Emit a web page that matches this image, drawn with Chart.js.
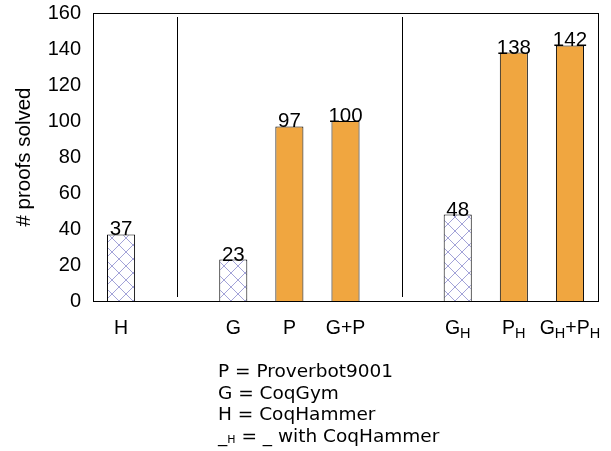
<!DOCTYPE html>
<html>
<head>
<meta charset="utf-8">
<script src="https://cdn.jsdelivr.net/npm/chart.js@4"></script>
<style>
  html, body { margin: 0; padding: 0; background: #fff; }
  #wrap { position: relative; width: 611px; height: 451px; }
  #key {
    position: absolute; left: 218px; top: 360px;
    font-family: "DejaVu Sans", sans-serif; font-size: 18.5px;
    line-height: 21.5px; color: #000;
  }
  #key sub { font-size: 11px; vertical-align: -1px; }
</style>
</head>
<body>
<div id="wrap">
  <canvas id="chart" width="611" height="451"></canvas>
  <div id="key">
    <div>P = Proverbot9001</div>
    <div>G = CoqGym</div>
    <div>H = CoqHammer</div>
    <div>_<sub>H</sub> = _ with CoqHammer</div>
  </div>
</div>
<script>
// categories ("" = gap slot holding a separator line)
const categories = ["H", "", "G", "P", "G+P", "", "G_H", "P_H", "G_H+P_H"];
const solved = [37, null, 23, 97, 100, null, 48, 138, 142];
const hatched = [true, false, true, false, false, false, true, false, false];
const separators = [1, 5];
const yTicks = [0, 20, 40, 60, 80, 100, 120, 140, 160];

const ORANGE = "#f0a640";
const FONT = "'Liberation Sans', Arial, sans-serif";

function makeHatch() {
  const c = document.createElement("canvas");
  c.width = 14;
  c.height = 14;
  const ctx = c.getContext("2d");
  ctx.fillStyle = "#fff";
  ctx.fillRect(0, 0, 14, 14);
  ctx.strokeStyle = "#a3a3d8";
  ctx.lineWidth = 1;
  ctx.beginPath();
  ctx.moveTo(0, 0); ctx.lineTo(14, 14);
  ctx.moveTo(14, 0); ctx.lineTo(0, 14);
  ctx.stroke();
  return document.getElementById("chart").getContext("2d").createPattern(c, "repeat");
}
const hatch = makeHatch();

// draw "G_H+P_H" style labels with subscripts, centred on x
function drawSubLabel(ctx, text, x, y, size, subSize) {
  const parts = [];
  let i = 0;
  while (i < text.length) {
    if (text[i] === "_") {
      parts.push({ t: text[i + 1], sub: true });
      i += 2;
    } else {
      parts.push({ t: text[i], sub: false });
      i += 1;
    }
  }
  let total = 0;
  parts.forEach((p) => {
    ctx.font = (p.sub ? subSize : size) + "px " + FONT;
    p.w = ctx.measureText(p.t).width;
    total += p.w;
  });
  let cx = x - total / 2;
  ctx.textAlign = "left";
  ctx.textBaseline = "alphabetic";
  parts.forEach((p) => {
    ctx.font = (p.sub ? subSize : size) + "px " + FONT;
    ctx.fillText(p.t, cx, p.sub ? y + 4 : y);
    cx += p.w;
  });
}

const extras = {
  id: "extras",
  afterDatasetsDraw(chart) {
    const { ctx, chartArea: a, scales } = chart;
    ctx.save();
    ctx.strokeStyle = "#000";
    ctx.lineWidth = 1;
    ctx.strokeRect(Math.round(a.left) + 0.5, Math.round(a.top) + 0.5,
      Math.round(a.right - a.left), Math.round(a.bottom - a.top));

    separators.forEach((i) => {
      const x = Math.round(scales.x.getPixelForValue(i)) + 0.5;
      ctx.beginPath();
      ctx.moveTo(x, a.top + 4);
      ctx.lineTo(x, a.bottom - 4);
      ctx.stroke();
    });

    // value labels
    ctx.fillStyle = "#000";
    ctx.font = "20.5px " + FONT;
    ctx.textAlign = "center";
    ctx.textBaseline = "alphabetic";
    chart.getDatasetMeta(0).data.forEach((bar, i) => {
      if (solved[i] == null) return;
      ctx.fillText(String(solved[i]), bar.x, bar.y + 1);
    });

    // category labels
    categories.forEach((c, i) => {
      if (!c) return;
      drawSubLabel(ctx, c, scales.x.getPixelForValue(i), a.bottom + 33, 19.5, 14.5);
    });
    ctx.restore();
  },
};

new Chart(document.getElementById("chart"), {
  type: "bar",
  data: {
    labels: categories,
    datasets: [
      {
        data: solved,
        backgroundColor: hatched.map((h) => (h ? hatch : ORANGE)),
        borderColor: "#000",
        borderWidth: 1,
        barPercentage: 0.5,
        categoryPercentage: 1,
      },
    ],
  },
  options: {
    responsive: false,
    animation: false,
    layout: { padding: { top: 13, right: 13, bottom: 150, left: 0 } },
    plugins: { legend: { display: false }, tooltip: { enabled: false } },
    scales: {
      x: {
        grid: { display: false, drawTicks: false },
        border: { display: false },
        ticks: { display: false },
        afterFit: (s) => { s.height = 0; },
      },
      y: {
        min: 0,
        max: 160,
        afterBuildTicks: (s) => { s.ticks = yTicks.map((v) => ({ value: v })); },
        grid: { display: false, drawTicks: false },
        border: { display: false },
        ticks: { color: "#000", padding: 12, font: { family: FONT, size: 20 } },
        title: {
          display: true,
          text: "# proofs solved",
          color: "#000",
          font: { family: FONT, size: 20.5 },
          padding: { top: 12, bottom: 0 },
        },
        afterFit: (s) => {
          s.width = 93;
          s.paddingTop = 0;
          s.paddingBottom = 0;
        },
      },
    },
  },
  plugins: [extras],
});
</script>
</body>
</html>
